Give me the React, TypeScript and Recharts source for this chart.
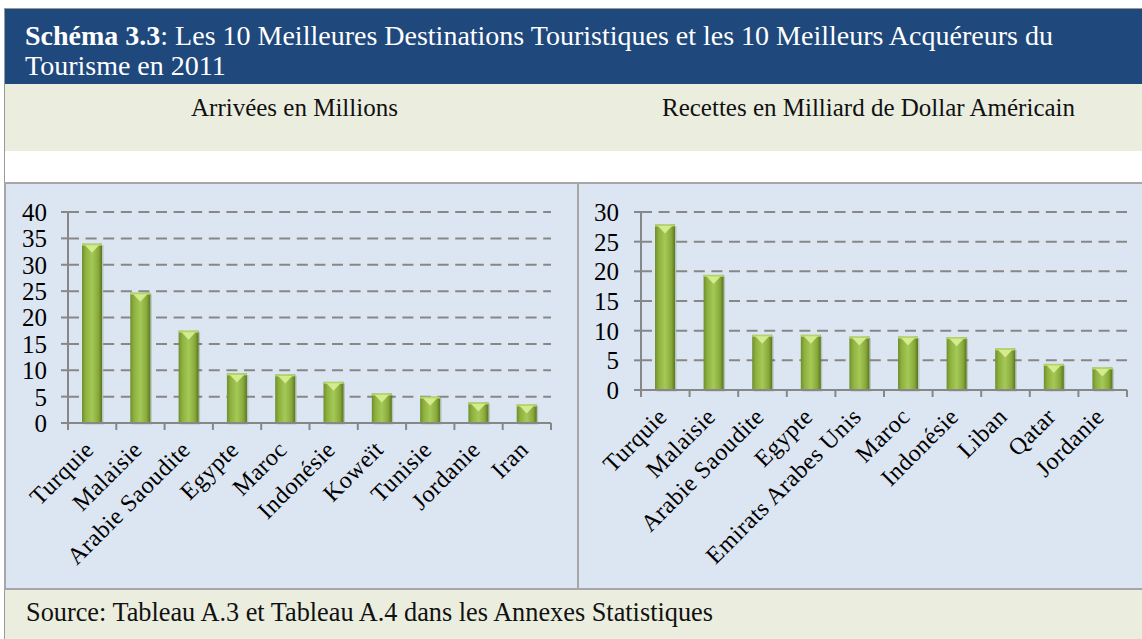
import React from "react"
import { BarChart, Bar, XAxis, YAxis, CartesianGrid } from "recharts"

// Arrivées en millions (2011)
const arrivalsCountries = ["Turquie", "Malaisie", "Arabie Saoudite", "Egypte", "Maroc", "Indonésie", "Koweït", "Tunisie", "Jordanie", "Iran"]
const arrivalsValues = [34.0, 24.7, 17.5, 9.4, 9.2, 7.8, 5.6, 5.0, 3.9, 3.5]
const arrivalsTicks = [0, 5, 10, 15, 20, 25, 30, 35, 40]

// Recettes en milliards de dollars (2011)
const receiptsCountries = ["Turquie", "Malaisie", "Arabie Saoudite", "Egypte", "Emirats Arabes Unis", "Maroc", "Indonésie", "Liban", "Qatar", "Jordanie"]
const receiptsValues = [27.9, 19.4, 9.3, 9.3, 9.0, 9.0, 8.9, 7.0, 4.4, 3.8]
const receiptsTicks = [0, 5, 10, 15, 20, 25, 30]

const arrivalsData = arrivalsCountries.map((name, i) => ({ name, value: arrivalsValues[i] }))
const receiptsData = receiptsCountries.map((name, i) => ({ name, value: receiptsValues[i] }))

const FONT = "'Liberation Serif', 'Times New Roman', serif"
const AXIS_GRAY = "#878787"

const makeBarShape = (gradId: string) => (props: any) => {
  const { x, y, width, height } = props
  if (!height || height <= 0) return null
  const tri = Math.min(8, height / 2)
  return (
    <g>
      <rect x={x + 1.5} y={y + 1.5} width={width} height={height} fill="#4F6228" opacity={0.25} />
      <rect x={x} y={y} width={width} height={height} fill={`url(#${gradId})`} />
      <rect x={x} y={y} width={width} height={2} fill="#B5D468" />
      <polygon
        points={`${x + 3},${y + 1.5} ${x + width - 3},${y + 1.5} ${x + width / 2},${y + tri + 1}`}
        fill="#D9EF96"
        opacity={0.9}
      />
    </g>
  )
}

const makeCatTick = (count: number) => (props: any) => {
  const { x, y, payload, index } = props
  const half = payload && payload.offset ? payload.offset : 24
  const ax = x + 3
  const ay = y + 28
  return (
    <g>
      <line x1={x - half} y1={y} x2={x - half} y2={y + 7} stroke={AXIS_GRAY} strokeWidth={2} />
      {index === count - 1 && (
        <line x1={x + half} y1={y} x2={x + half} y2={y + 7} stroke={AXIS_GRAY} strokeWidth={2} />
      )}
      <text
        x={ax}
        y={ay}
        textAnchor="end"
        fontSize={24}
        letterSpacing={0.5}
        fontFamily={FONT}
        fill="#000"
        transform={`rotate(-45, ${ax}, ${ay})`}
      >
        {payload.value}
      </text>
    </g>
  )
}

interface PanelChartProps {
  data: { name: string; value: number }[]
  ticks: number[]
  width: number
  height: number
  yWidth: number
  yMargin: number
  margin: { top: number; right: number; left: number; bottom: number }
  xHeight: number
  gradId: string
}

const PanelChart: React.FC<PanelChartProps> = ({ data, ticks, width, height, yWidth, yMargin, margin, xHeight, gradId }) => (
  <BarChart width={width} height={height} data={data} margin={margin} barSize={20}>
    <defs>
      <linearGradient id={gradId} x1="0" y1="0" x2="1" y2="0">
        <stop offset="0%" stopColor="#6F8F2C" />
        <stop offset="18%" stopColor="#8DB03E" />
        <stop offset="50%" stopColor="#A5C957" />
        <stop offset="82%" stopColor="#87A93A" />
        <stop offset="100%" stopColor="#5A7620" />
      </linearGradient>
    </defs>
    <CartesianGrid vertical={false} stroke={AXIS_GRAY} strokeWidth={2} strokeDasharray="11 6.6" />
    <XAxis
      dataKey="name"
      interval={0}
      height={xHeight}
      tickSize={0}
      tickMargin={0}
      tickLine={false}
      axisLine={{ stroke: AXIS_GRAY, strokeWidth: 2 }}
      tick={makeCatTick(data.length)}
    />
    <YAxis
      width={yWidth}
      domain={[0, ticks[ticks.length - 1]]}
      ticks={ticks}
      interval={0}
      tickSize={7}
      tickMargin={yMargin}
      axisLine={{ stroke: AXIS_GRAY, strokeWidth: 2 }}
      tickLine={{ stroke: AXIS_GRAY, strokeWidth: 2 }}
      tick={{ fontSize: 25, fill: "#000", fontFamily: FONT }}
    />
    <Bar dataKey="value" isAnimationActive={false} shape={makeBarShape(gradId)} />
  </BarChart>
)

const abs = (left: number, top: number, width: number, height: number, extra: React.CSSProperties = {}): React.CSSProperties => ({
  position: "absolute",
  left,
  top,
  width,
  height,
  boxSizing: "border-box",
  ...extra,
})

export default function App() {
  // container origin sits at page (4, 8)
  return (
    <div style={{ position: "absolute", left: 4, top: 8, width: 1138, height: 631, fontFamily: FONT, overflow: "hidden" }}>
      {/* title band */}
      <div style={abs(0, 0, 1138, 76, { background: "#1F497D", borderTop: "1px solid #9A9A9A", borderLeft: "1px solid #9A9A9A" })} />
      <div
        style={abs(21, 12.5, 1115, 64, {
          color: "#fff",
          fontSize: 28,
          lineHeight: "30px",
          whiteSpace: "nowrap",
        })}
      >
        <span style={{ fontWeight: "bold" }}>Schéma 3.3</span>: Les 10 Meilleures Destinations Touristiques et les 10 Meilleurs Acquéreurs du
        <br />
        Tourisme en 2011
      </div>

      {/* subtitle band */}
      <div style={abs(0, 76, 1138, 67, { background: "#EBEEDF", borderLeft: "1px solid #9A9A9A" })} />
      <div style={abs(90.5, 85, 400, 30, { textAlign: "center", fontSize: 25, lineHeight: "30px", color: "#111", whiteSpace: "nowrap" })}>
        Arrivées en Millions
      </div>
      <div style={abs(614.5, 85, 500, 30, { textAlign: "center", fontSize: 25, lineHeight: "30px", color: "#111", whiteSpace: "nowrap" })}>
        Recettes en Milliard de Dollar Américain
      </div>

      {/* white gap */}
      <div style={abs(0, 143, 1138, 31, { background: "#fff", borderLeft: "1px solid #9A9A9A" })} />

      {/* chart panels */}
      <div style={abs(0, 174, 575, 408, { background: "#DCE6F2", border: "2px solid #A6A6A6", borderRight: "none" })} />
      <div style={abs(573, 174, 565, 408, { background: "#DCE6F2", border: "2px solid #A6A6A6", borderRight: "none" })} />

      <div style={abs(2, 176, 570, 404)}>
        <PanelChart
          data={arrivalsData}
          ticks={arrivalsTicks}
          width={570}
          height={404}
          yWidth={62}
          yMargin={14}
          margin={{ top: 28, right: 25, left: 0, bottom: 0 }}
          xHeight={165}
          gradId="gradArrivals"
        />
      </div>
      <div style={abs(576, 176, 560, 404)}>
        <PanelChart
          data={receiptsData}
          ticks={receiptsTicks}
          width={560}
          height={404}
          yWidth={61}
          yMargin={15}
          margin={{ top: 28, right: 13, left: 0, bottom: 0 }}
          xHeight={198}
          gradId="gradReceipts"
        />
      </div>

      {/* source band */}
      <div style={abs(0, 582, 1138, 49, { background: "#EBEEDF", borderLeft: "1px solid #9A9A9A" })} />
      <div style={abs(22, 589, 1100, 32, { fontSize: 26.3, lineHeight: "32px", color: "#111", whiteSpace: "nowrap" })}>
        Source: Tableau A.3 et Tableau A.4 dans les Annexes Statistiques
      </div>
    </div>
  )
}
